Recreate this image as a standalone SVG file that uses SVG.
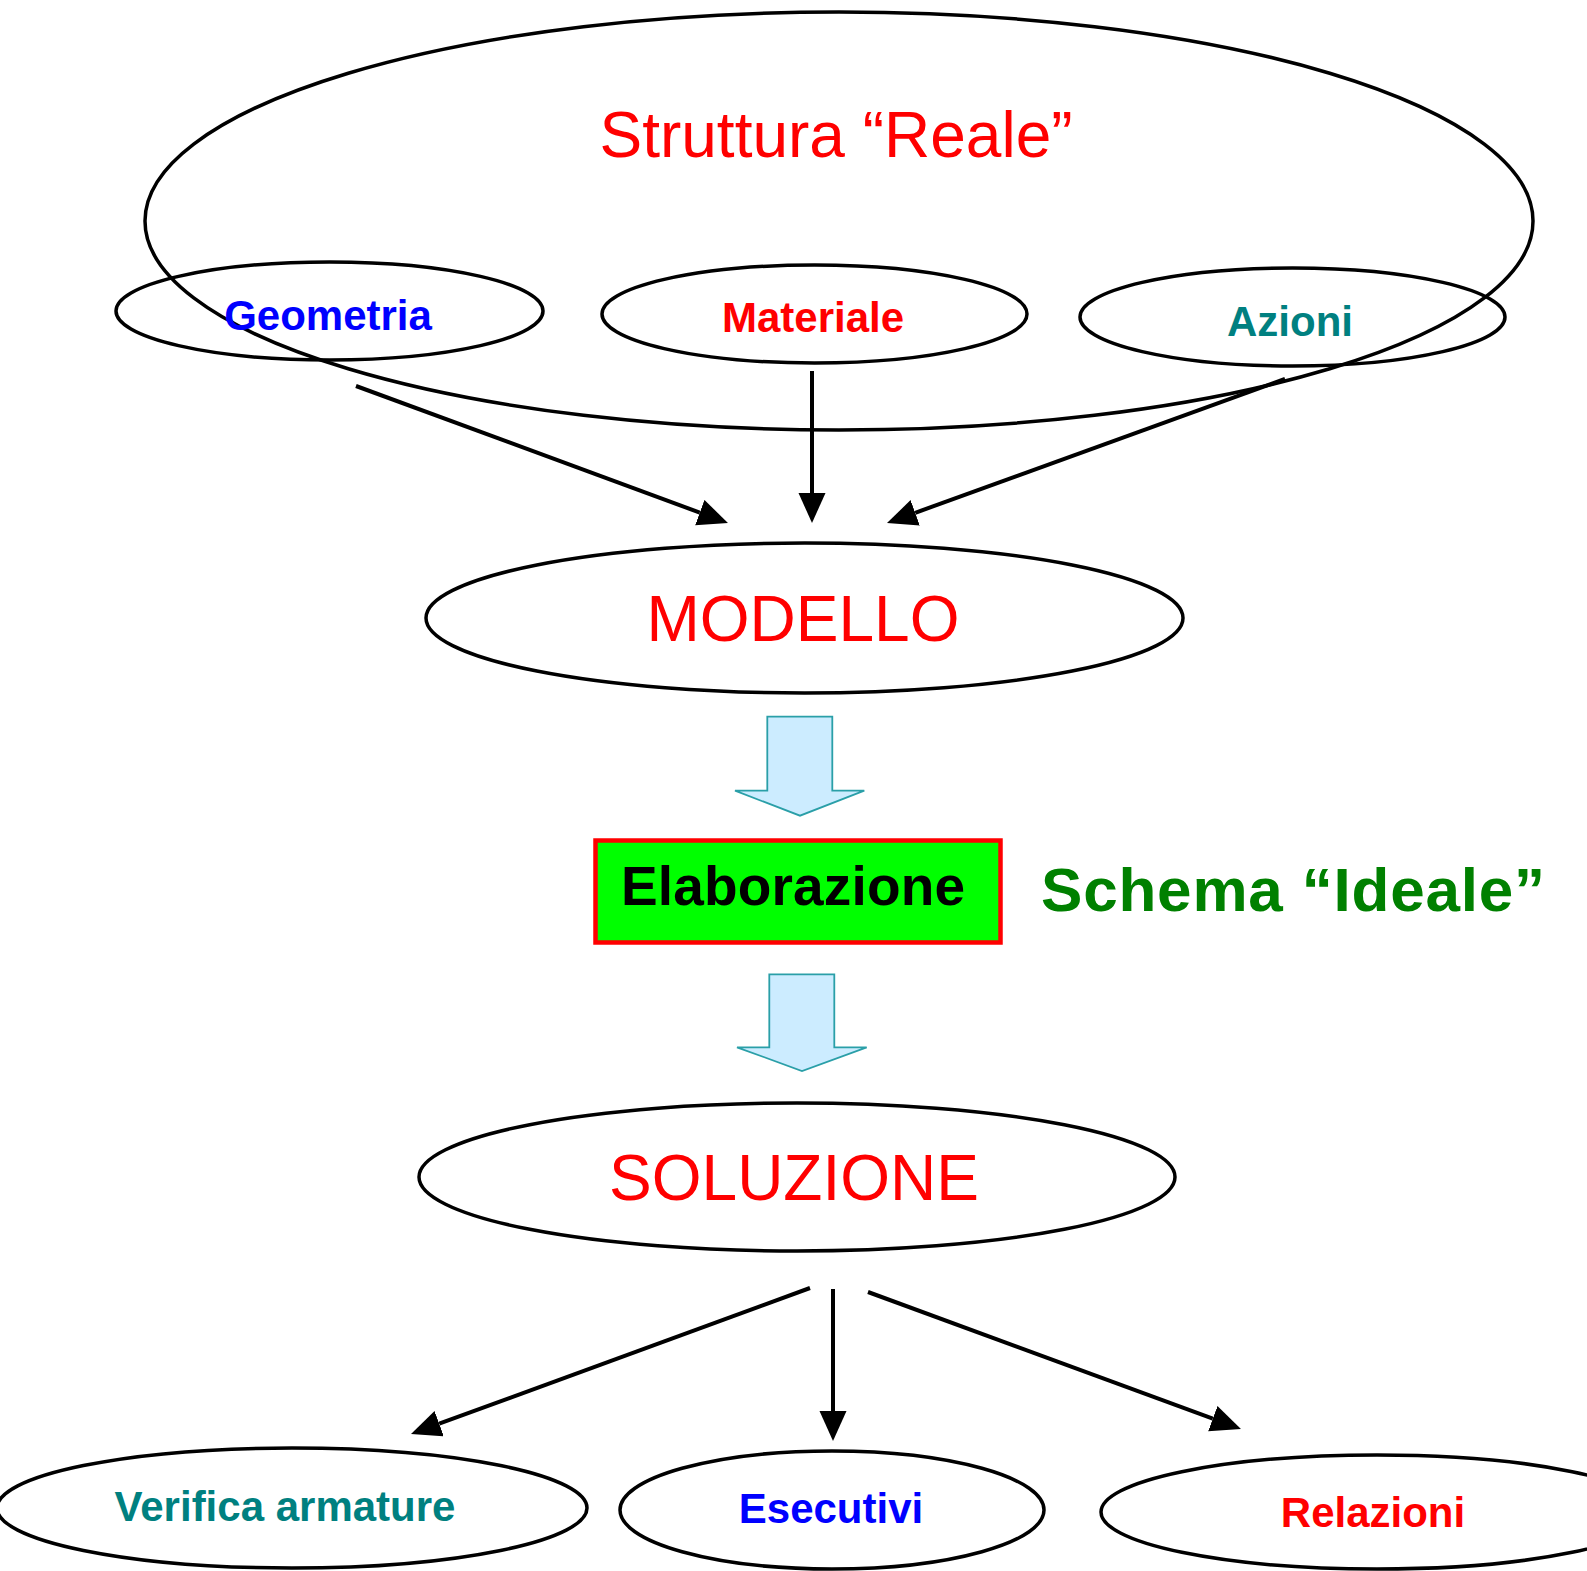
<svg xmlns="http://www.w3.org/2000/svg" width="1587" height="1571" viewBox="0 0 1587 1571">
<style>
.el{fill:none;stroke:#000;stroke-width:3.5}
.t{font-family:"Liberation Sans",Arial,sans-serif;text-anchor:middle}
.b{font-weight:bold;font-size:42px}
.big{font-size:64px}
.con{stroke:#000;stroke-width:4;fill:none}
.hol{fill:#CCECFF;stroke:#2A9FA8;stroke-width:1.8}
</style>
<defs>
<marker id="ah" markerUnits="userSpaceOnUse" markerWidth="32" markerHeight="30" refX="0" refY="13.5" orient="auto" viewBox="0 0 32 30">
<path d="M0,0 L30,13.5 L0,27 z" fill="#000"/>
</marker>
</defs>
<rect width="1587" height="1571" fill="#fff"/>
<g id="struttura">
<ellipse class="el" cx="839" cy="221" rx="694" ry="209"/>
<text class="t big" x="836" y="157" fill="#FF0000">Struttura “Reale”</text>
</g>
<g id="geometria">
<ellipse class="el" cx="329.5" cy="311" rx="213.5" ry="49"/>
<text class="t b" x="328" y="330" fill="#0000FF">Geometria</text>
</g>
<g id="materiale">
<ellipse class="el" cx="814.5" cy="314" rx="212.5" ry="49"/>
<text class="t b" x="813" y="332" fill="#FF0000">Materiale</text>
</g>
<g id="azioni">
<ellipse class="el" cx="1292.5" cy="317" rx="212.5" ry="49"/>
<text class="t b" x="1290" y="336" fill="#008080">Azioni</text>
</g>
<g id="modello">
<ellipse class="el" cx="804.5" cy="618" rx="378.5" ry="75"/>
<text class="t big" x="803" y="641" fill="#FF0000">MODELLO</text>
</g>
<g id="freccia1">
<path class="hol" d="M767.3,716.7 H832.3 V790.7 H864.3 L800,815.7 L735,790.7 H767.3 Z"/>
</g>
<g id="elaborazione">
<rect x="595.5" y="840.5" width="405" height="102" fill="#00FF00" stroke="#FF0000" stroke-width="4.5"/>
<text x="621" y="905" font-family="Liberation Sans,Arial,sans-serif" font-weight="bold" font-size="55" textLength="344" fill="#000">Elaborazione</text>
</g>
<g id="schema">
<text x="1041" y="911" font-family="Liberation Sans,Arial,sans-serif" font-weight="bold" font-size="62" textLength="504" fill="#008000">Schema “Ideale”</text>
</g>
<g id="freccia2">
<path class="hol" d="M769.3,974.3 H834.3 V1047.3 H866.7 L802,1071 L737,1047.3 H769.3 Z"/>
</g>
<g id="soluzione">
<ellipse class="el" cx="797" cy="1177" rx="378" ry="74"/>
<text class="t big" x="794" y="1200" fill="#FF0000">SOLUZIONE</text>
</g>
<g id="verifica">
<ellipse class="el" cx="292" cy="1508" rx="295" ry="60"/>
<text class="t b" x="285" y="1521" fill="#008080">Verifica armature</text>
</g>
<g id="esecutivi">
<ellipse class="el" cx="832" cy="1510" rx="212" ry="59"/>
<text class="t b" x="831" y="1523" fill="#0000FF">Esecutivi</text>
</g>
<g id="relazioni">
<ellipse class="el" cx="1377" cy="1512" rx="276" ry="57"/>
<text class="t b" x="1373" y="1527" fill="#FF0000">Relazioni</text>
</g>
<g id="connectors">
<line class="con" x1="356" y1="386" x2="699.8" y2="512.6" marker-end="url(#ah)"/>
<line class="con" x1="812" y1="371" x2="812" y2="493" stroke-width="3" marker-end="url(#ah)"/>
<line class="con" x1="1285" y1="379" x2="915.2" y2="512.8" marker-end="url(#ah)"/>
<line class="con" x1="810" y1="1288" x2="439.2" y2="1423.7" marker-end="url(#ah)"/>
<line class="con" x1="833" y1="1289" x2="833" y2="1411" stroke-width="3" marker-end="url(#ah)"/>
<line class="con" x1="868" y1="1292" x2="1212.8" y2="1418.7" marker-end="url(#ah)"/>
</g>
</svg>
